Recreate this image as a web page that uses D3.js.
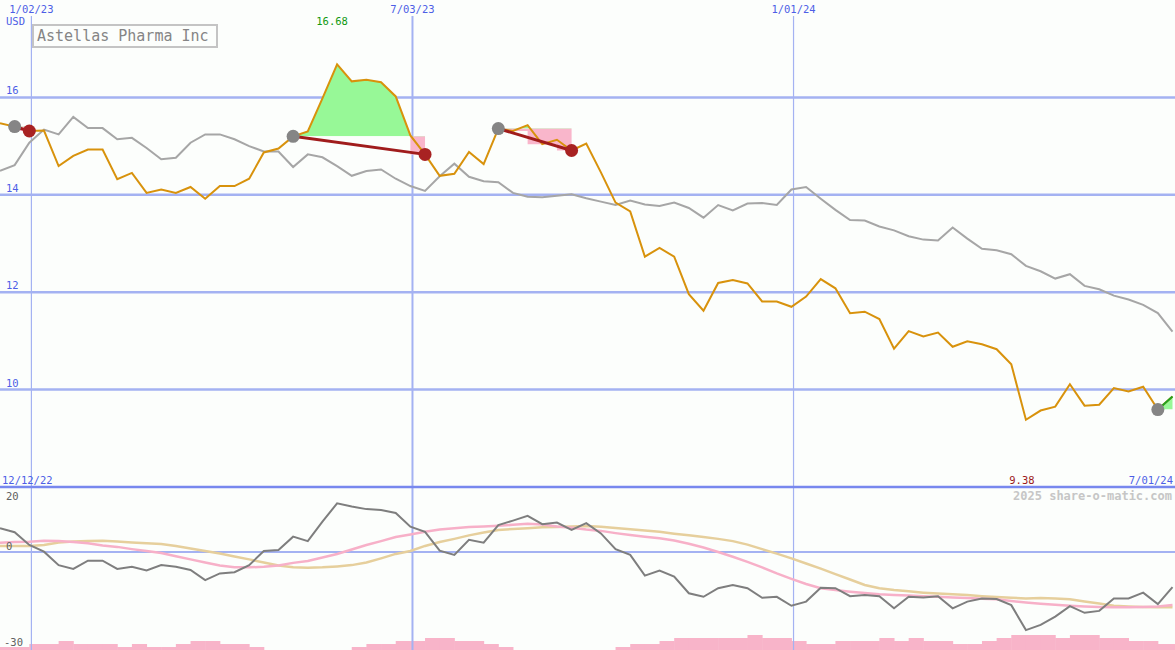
<!DOCTYPE html>
<html><head><meta charset="utf-8">
<script src="https://cdn.jsdelivr.net/npm/d3@7"></script>
<style>
html,body{margin:0;padding:0;background:#fcfefc;}
svg{display:block;}
text{font-family:"DejaVu Sans Mono",monospace;}
</style></head><body>
<svg id="c" width="1175" height="650"></svg>
<script>
// ---------- data ----------
const title = "Astellas Pharma Inc";
const currency = "USD";
const firstWeek = "2022-12-18";   // weekly points, 81 weeks
const lastWeek = "2024-06-30";
const startLabel = "12/12/22";
const endLabel = "7/01/24";
const footer = "2025 share-o-matic.com";

const price = [
  15.47, 15.40, 15.31, 15.32, 14.59, 14.80, 14.93, 14.93, 14.32, 14.45,
  14.04, 14.11, 14.04, 14.16, 13.92, 14.18, 14.18, 14.33, 14.87, 14.95,
  15.20, 15.30, 15.98, 16.68, 16.33, 16.36, 16.31, 16.02, 15.22, 14.83,
  14.39, 14.43, 14.88, 14.63, 15.36, 15.31, 15.43, 15.04, 15.13, 14.91,
  15.05, 14.46, 13.84, 13.66, 12.73, 12.91, 12.73, 11.96, 11.62, 12.19,
  12.25, 12.18, 11.81, 11.81, 11.70, 11.91, 12.27, 12.08, 11.57, 11.60,
  11.45, 10.84, 11.20, 11.09, 11.17, 10.88, 10.99, 10.93, 10.83, 10.52,
  9.38, 9.57, 9.65, 10.11, 9.67, 9.69, 10.03, 9.96, 10.06, 9.59,
  9.86
];
const benchmark = [
  14.49, 14.61, 15.07, 15.34, 15.24, 15.60, 15.37, 15.37, 15.14, 15.17,
  14.96, 14.73, 14.76, 15.07, 15.24, 15.24, 15.14, 15.00, 14.89, 14.89,
  14.57, 14.83, 14.77, 14.59, 14.39, 14.49, 14.52, 14.33, 14.18, 14.08,
  14.38, 14.64, 14.37, 14.28, 14.26, 14.04, 13.96, 13.95, 13.98, 14.01,
  13.93, 13.86, 13.79, 13.88, 13.80, 13.77, 13.84, 13.73, 13.53, 13.79,
  13.68, 13.82, 13.83, 13.79, 14.11, 14.16, 13.92, 13.69, 13.48, 13.47,
  13.35, 13.27, 13.15, 13.08, 13.06, 13.33, 13.10, 12.89, 12.86, 12.78,
  12.54, 12.43, 12.28, 12.37, 12.13, 12.06, 11.93, 11.85, 11.74, 11.57,
  11.19
];
const momentum = [
  7.4, 6.2, 2.2, 0.1, -4.1, -5.3, -2.7, -2.7, -5.3, -4.6,
  -5.8, -4.1, -4.6, -5.6, -8.8, -6.7, -6.3, -4.1, 0.3, 0.6,
  4.8, 3.4, 9.5, 15.2, 14.2, 13.4, 13.1, 12.2, 7.9, 6.3,
  0.4, -0.9, 3.8, 2.9, 8.4, 9.8, 11.3, 8.7, 9.2, 6.9,
  9.0, 5.8, 0.9, -0.9, -7.4, -5.8, -7.7, -12.9, -14.0, -11.3,
  -10.3, -11.3, -14.3, -14.0, -16.8, -15.5, -11.2, -11.3, -13.8, -13.4,
  -13.8, -17.6, -14.0, -14.2, -13.8, -17.6, -15.5, -14.5, -14.7, -16.6,
  -24.4, -22.8, -20.2, -16.9, -19.0, -18.4, -14.5, -14.5, -12.7, -16.3,
  -11.0
];
const avgFast = [
  2.9, 3.1, 3.2, 3.5, 3.4, 3.1, 2.7, 2.0, 1.6, 0.9,
  0.3, -0.3, -1.3, -2.3, -3.3, -4.2, -4.8, -4.8, -4.6, -4.2,
  -3.4, -2.8, -1.7, -0.6, 0.8, 2.2, 3.4, 4.7, 5.5, 6.3,
  7.0, 7.4, 7.8, 8.0, 8.2, 8.5, 8.8, 8.6, 8.0, 7.6,
  7.0, 6.6, 5.9, 5.3, 4.8, 4.3, 3.6, 2.6, 1.4, 0.0,
  -1.5, -3.1, -4.8, -6.7, -8.4, -10.0, -11.3, -11.9, -12.4, -12.8,
  -13.2, -13.4, -13.6, -13.8, -14.0, -14.2, -14.4, -14.6, -14.8, -15.3,
  -15.8, -16.2, -16.5, -16.8, -17.0, -17.2, -17.3, -17.3, -17.2, -17.0,
  -16.6
];
const avgSlow = [
  1.9, 1.9, 1.9, 2.2, 3.0, 3.3, 3.4, 3.5, 3.3, 3.0,
  2.7, 2.5, 1.9, 1.1, 0.3, -0.5, -1.4, -2.3, -3.3, -4.2,
  -4.8, -4.9, -4.8, -4.5, -4.1, -3.3, -2.0, -0.6, 0.3, 1.9,
  3.1, 4.1, 5.2, 6.1, 6.9, 7.2, 7.4, 7.7, 7.8, 8.0,
  8.1, 7.9, 7.5, 7.1, 6.7, 6.3, 5.7, 5.2, 4.7, 4.1,
  3.4, 2.3, 0.9, -0.5, -2.0, -3.6, -5.2, -6.9, -8.6, -10.3,
  -11.3, -11.9, -12.3, -12.7, -13.0, -13.2, -13.4, -13.8, -14.1, -14.3,
  -14.5, -14.4, -14.5, -14.8, -15.5, -16.1, -16.8, -17.0, -17.2, -17.3,
  -17.3
];
const volumeLevel = [
  1, 1, 2, 2, 3, 2, 2, 2, 1, 2,
  1, 1, 2, 3, 3, 2, 2, 1, 0, 0,
  0, 0, 0, 0, 1, 2, 2, 3, 3, 4,
  4, 3, 3, 2, 1, 0, 0, 0, 0, 0,
  0, 0, 1, 2, 2, 3, 4, 4, 4, 4,
  4, 5, 4, 4, 3, 2, 2, 3, 3, 3,
  4, 3, 4, 3, 3, 2, 2, 3, 4, 5,
  5, 5, 4, 5, 5, 4, 4, 3, 3, 2,
  2
];
// trades: index of buy week and sell week (null = still open)
const tradeBuy  = [1, 20, 34, 79];
const tradeSell = [2, 29, 39, null];

const priceTicks = [10, 12, 14, 16];
const dateTicks = ["2023-01-02", "2023-07-03", "2024-01-01"];
const dateTickLabels = ["1/02/23", "7/03/23", "1/01/24"];
const lowerTicks = [20, 0, -30];

// ---------- setup ----------
const W = 1175, H = 650;
const svg = d3.select("#c");
const parse = d3.utcParse("%Y-%m-%d");
const t0 = parse(firstWeek);
const dates = price.map((_, i) => d3.utcDay.offset(t0, 7 * i));

const x = d3.scaleUtc().domain([t0, parse(lastWeek)]).range([0, 1172.5]);
const y = d3.scaleLinear().domain([8, 18]).range([487, 0]);
const y2 = d3.scaleLinear().domain([-30, 20]).range([648, 488]);
const yv = d3.scaleLinear().domain([0, 5]).range([650, 635]);

const gridC = "#a4b2f2", blue = "#4d5ee6";

svg.append("rect").attr("width", W).attr("height", H).attr("fill", "#fcfefc");

// volume bars
const step = x(dates[1]) - x(dates[0]);
svg.append("g").selectAll("rect").data(volumeLevel).join("rect")
  .attr("x", (d, i) => x(dates[i]))
  .attr("width", step + 0.5)
  .attr("y", d => yv(d))
  .attr("height", d => yv(0) - yv(d))
  .attr("fill", "#f8b4c9");

// vertical grid
svg.append("g").selectAll("line").data(dateTicks).join("line")
  .attr("x1", d => x(parse(d))).attr("x2", d => x(parse(d)))
  .attr("y1", 16).attr("y2", H)
  .attr("stroke", gridC).attr("stroke-width", (d, i) => i === 1 ? 2 : 1.2);

// horizontal grid main
svg.append("g").selectAll("line").data(priceTicks).join("line")
  .attr("x1", 0).attr("x2", W)
  .attr("y1", d => y(d)).attr("y2", d => y(d))
  .attr("stroke", gridC).attr("stroke-width", 2.5);

// lower zero line
svg.append("line").attr("x1", 0).attr("x2", W)
  .attr("y1", y2(0)).attr("y2", y2(0))
  .attr("stroke", gridC).attr("stroke-width", 2);

// separator
svg.append("line").attr("x1", 0).attr("x2", W)
  .attr("y1", 487).attr("y2", 487)
  .attr("stroke", "#7888ee").attr("stroke-width", 2.5);

// ---------- trade areas ----------
const defs = svg.append("defs");
const nLast = price.length - 1;
tradeBuy.forEach((b, ti) => {
  const s = tradeSell[ti] === null ? nLast : tradeSell[ti];
  const bp = price[b];
  const idx = d3.range(b, s + 1);
  // loss area: running minimum below the buy level, stepped
  let m = bp;
  const mins = idx.map(i => { m = Math.min(m, price[i]); return m; });
  svg.append("path")
    .attr("d", d3.area().curve(d3.curveStepBefore)
      .x((d, k) => x(dates[d])).y0(y(bp)).y1((d, k) => y(mins[k]))(idx))
    .attr("fill", "#f9b6cb");
  // gain area: between price and buy level, above buy level
  const cid = "clipGain" + ti;
  defs.append("clipPath").attr("id", cid).append("rect")
    .attr("x", x(dates[b])).attr("y", 0)
    .attr("width", x(dates[s]) - x(dates[b]) + (tradeSell[ti] === null ? 3 : 0))
    .attr("height", y(bp));
  svg.append("path")
    .attr("clip-path", `url(#${cid})`)
    .attr("d", d3.area().x(d => x(dates[d])).y0(y(bp)).y1(d => y(price[d]))(idx))
    .attr("fill", "#97f897");
});

// ---------- lines main ----------
const lineMain = d3.line().x((d, i) => x(dates[i])).y(d => y(d));
svg.append("path").attr("d", lineMain(benchmark))
  .attr("fill", "none").attr("stroke", "#a6a6a6").attr("stroke-width", 2);
svg.append("path").attr("d", lineMain(price))
  .attr("fill", "none").attr("stroke", "#d8920c").attr("stroke-width", 2);

// open position segment in green
tradeBuy.forEach((b, ti) => {
  if (tradeSell[ti] !== null) return;
  const idx = d3.range(b, nLast + 1);
  svg.append("path")
    .attr("d", d3.line().x(d => x(dates[d])).y(d => y(price[d]))(idx))
    .attr("fill", "none").attr("stroke", "#22a022").attr("stroke-width", 2);
});

// trade connectors and markers
tradeBuy.forEach((b, ti) => {
  const s = tradeSell[ti];
  if (s !== null) {
    svg.append("line")
      .attr("x1", x(dates[b])).attr("y1", y(price[b]))
      .attr("x2", x(dates[s])).attr("y2", y(price[s]))
      .attr("stroke", "#a01c1c").attr("stroke-width", 3);
  }
});
tradeBuy.forEach((b, ti) => {
  svg.append("circle").attr("cx", x(dates[b])).attr("cy", y(price[b]))
    .attr("r", 6.5).attr("fill", "#858585");
  const s = tradeSell[ti];
  if (s !== null) {
    svg.append("circle").attr("cx", x(dates[s])).attr("cy", y(price[s]))
      .attr("r", 6.5).attr("fill", "#a82222");
  }
});

// ---------- lower panel lines ----------
const lineLow = d3.line().x((d, i) => x(dates[i])).y(d => y2(d));
svg.append("path").attr("d", lineLow(avgSlow))
  .attr("fill", "none").attr("stroke", "#e6cf9c").attr("stroke-width", 2.5);
svg.append("path").attr("d", lineLow(avgFast))
  .attr("fill", "none").attr("stroke", "#f7b0c8").attr("stroke-width", 2.5);
svg.append("path").attr("d", lineLow(momentum))
  .attr("fill", "none").attr("stroke", "#7e7e7e").attr("stroke-width", 2);

// ---------- text ----------
svg.append("g").selectAll("text").data(dateTicks).join("text")
  .attr("x", d => x(parse(d))).attr("y", 13)
  .attr("text-anchor", "middle").attr("font-size", 10.5).attr("fill", blue)
  .text((d, i) => dateTickLabels[i]);

svg.append("text").attr("x", 6).attr("y", 25).attr("font-size", 10.5)
  .attr("fill", blue).text(currency);

svg.append("g").selectAll("text").data(priceTicks).join("text")
  .attr("x", 6).attr("y", d => y(d) - 3)
  .attr("font-size", 10.5).attr("fill", blue).text(d => d);

svg.append("rect").attr("x", 33).attr("y", 25).attr("width", 184).attr("height", 22)
  .attr("fill", "#fcfefc").attr("stroke", "#c4c4c4").attr("stroke-width", 2);
svg.append("text").attr("x", 37).attr("y", 41).attr("font-size", 15)
  .attr("fill", "#858585").text(title);

const maxI = d3.maxIndex(price), minI = d3.minIndex(price);
svg.append("text").attr("x", x(dates[maxI]) - 5).attr("y", 25)
  .attr("text-anchor", "middle").attr("font-size", 10.5).attr("fill", "#119911")
  .text(price[maxI].toFixed(2));
svg.append("text").attr("x", x(dates[minI]) - 4).attr("y", 484)
  .attr("text-anchor", "middle").attr("font-size", 10.5).attr("fill", "#9c1a1a")
  .text(price[minI].toFixed(2));

svg.append("text").attr("x", 2).attr("y", 484).attr("font-size", 10.5)
  .attr("fill", blue).text(startLabel);
svg.append("text").attr("x", 1173).attr("y", 484).attr("text-anchor", "end")
  .attr("font-size", 10.5).attr("fill", blue).text(endLabel);

svg.append("text").attr("x", 1172).attr("y", 500).attr("text-anchor", "end")
  .attr("font-size", 12).attr("font-weight", "bold").attr("fill", "#c6c6c6")
  .text(footer);

svg.append("g").selectAll("text").data(lowerTicks).join("text")
  .attr("x", d => d < 0 ? 4 : 6)
  .attr("y", d => d === 20 ? y2(d) + 12 : y2(d) - 2)
  .attr("font-size", 10.5).attr("fill", "#606060").text(d => d);
</script>
</body></html>
